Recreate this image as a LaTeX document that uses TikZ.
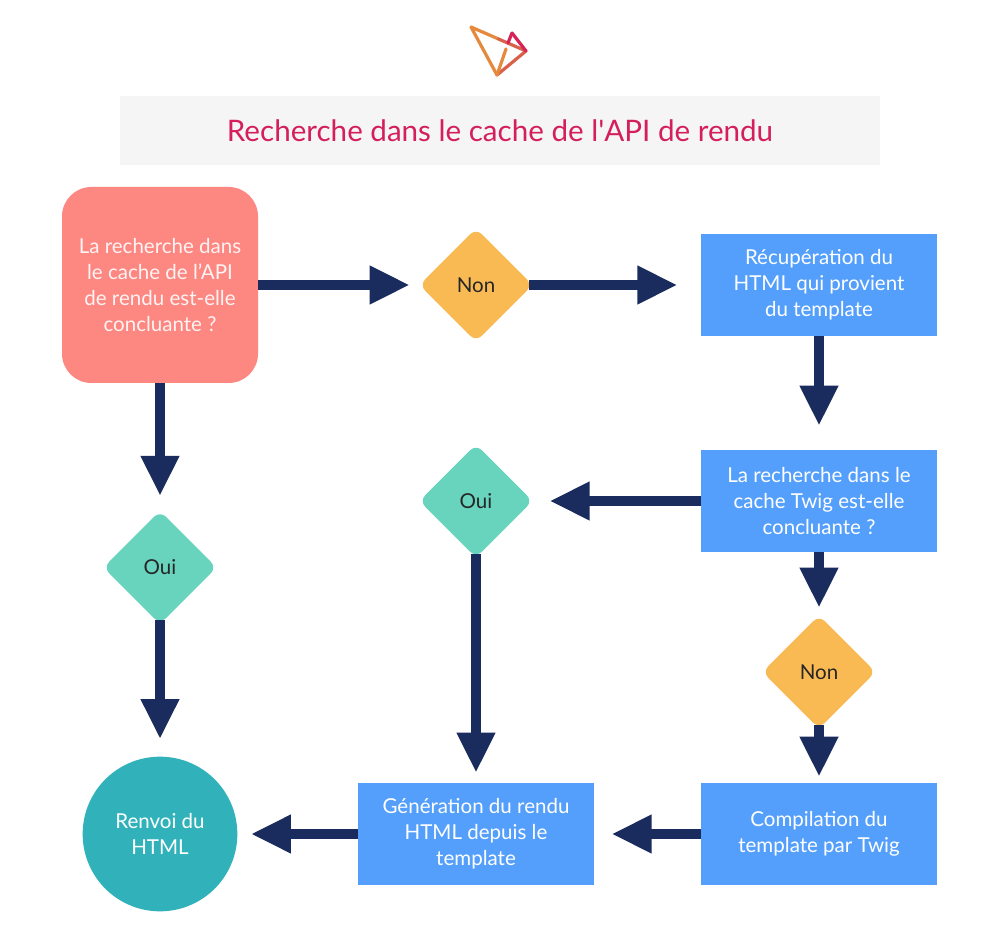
\documentclass[tikz,border=0pt]{standalone}
\usepackage{fontspec}
\setmainfont{Lato}
\usepackage{tikz}
\usetikzlibrary{arrows.meta,shapes.geometric}
\definecolor{NavyFlow}{HTML}{1A2C5E}
\definecolor{BlueStep}{HTML}{549FFB}
\definecolor{SalmonStart}{HTML}{FD8781}
\definecolor{AmberNon}{HTML}{F9BA53}
\definecolor{MintOui}{HTML}{68D4BE}
\definecolor{TealEnd}{HTML}{31B2BB}
\definecolor{TitleBar}{HTML}{F5F5F5}
\definecolor{TitleInk}{HTML}{D41F5C}
\definecolor{LogoOrange}{HTML}{E58A3C}
\definecolor{LogoMid}{HTML}{D9604A}
\definecolor{LogoRed}{HTML}{D62458}
\tikzset{
  label text/.style={align=center,font=\fontsize{15.4}{19.5}\selectfont},
  stepbox/.style={label text,fill=BlueStep,text=white,minimum width=177pt,minimum height=76.5pt,inner sep=0pt},
  startbox/.style={label text,fill=SalmonStart,text=white!90!SalmonStart,minimum width=147pt,minimum height=147pt,rounded corners=22pt,inner sep=0pt},
  choice/.style={label text,diamond,aspect=1,minimum width=85pt,minimum height=85pt,inner sep=0pt,rounded corners=6pt,text=black!85},
  endnode/.style={label text,circle,fill=TealEnd,text=white,minimum size=116pt,inner sep=0pt},
  flow/.style={draw=NavyFlow,line width=7.5pt,-{Triangle[length=30pt,width=27pt]}},
  logo/.style={line width=2.4pt,line cap=round,line join=round},
}
\begin{document}
\begin{tikzpicture}[x=0.75pt,y=-0.75pt]
  \useasboundingbox[fill=white] (0,0) rectangle (1000,930);
  % logo
  \draw[logo,draw=LogoOrange] (497,75) -- (471,27) -- (498.5,39);
  \draw[logo,draw=LogoMid] (498.5,39) -- (526,51) -- (497,75);
  \draw[logo,draw=LogoRed] (512,33) -- (526,51);
  \draw[logo,draw=LogoRed] (512,33) -- (508,43);
  \draw[logo,draw=LogoOrange] (497,75) -- (506,49);
  % title
  \node[fill=TitleBar,minimum width=570pt,minimum height=51.75pt,inner sep=0pt,text=TitleInk,
    font=\fontsize{22.2}{26}\selectfont] (title) at (500,130.5) {Recherche dans le cache de l\textquotesingle API de rendu};
  % left column
  \node[startbox] (search) at (160,285) {La recherche dans\\le cache de l’API\\de rendu est-elle\\concluante ?};
  \node[choice,fill=MintOui] (ouiA) at (160,567.5) {Oui};
  \node[endnode] (renvoi) at (160,834) {Renvoi du\\HTML};
  % middle column
  \node[choice,fill=AmberNon] (nonA) at (476,285) {Non};
  \node[choice,fill=MintOui] (ouiB) at (476,501) {Oui};
  \node[stepbox] (rendu) at (476,834) {Génération du rendu\\HTML depuis le\\template};
  % right column
  \node[stepbox] (recup) at (819,285) {Récupération du\\HTML qui provient\\du template};
  \node[stepbox] (twig) at (819,501) {La recherche dans le\\cache Twig est-elle\\concluante ?};
  \node[choice,fill=AmberNon] (nonB) at (819,672) {Non};
  \node[stepbox] (compil) at (819,834) {Compilation du\\template par Twig};
  % connectors
  \draw[flow,shorten >=7pt] (search) -- (nonA);
  \draw[flow,shorten <=-3pt,shorten >=17.5pt] (nonA) -- (recup);
  \draw[flow,shorten >=18pt] (recup) -- (twig);
  \draw[flow,shorten >=12.5pt] (twig) -- (ouiB);
  \draw[flow,shorten >=5.5pt] (twig) -- (nonB);
  \draw[flow,shorten <=-3pt,shorten >=4.5pt] (nonB) -- (compil);
  \draw[flow,shorten <=-3pt,shorten >=7.5pt] (ouiB) -- (rendu);
  \draw[flow,shorten >=13pt] (compil) -- (rendu);
  \draw[flow,shorten >=10pt] (rendu) -- (renvoi);
  \draw[flow,shorten >=11pt] (search) -- (ouiA);
  \draw[flow,shorten <=-3pt,shorten >=13pt] (ouiA) -- (renvoi);
\end{tikzpicture}
\end{document}
